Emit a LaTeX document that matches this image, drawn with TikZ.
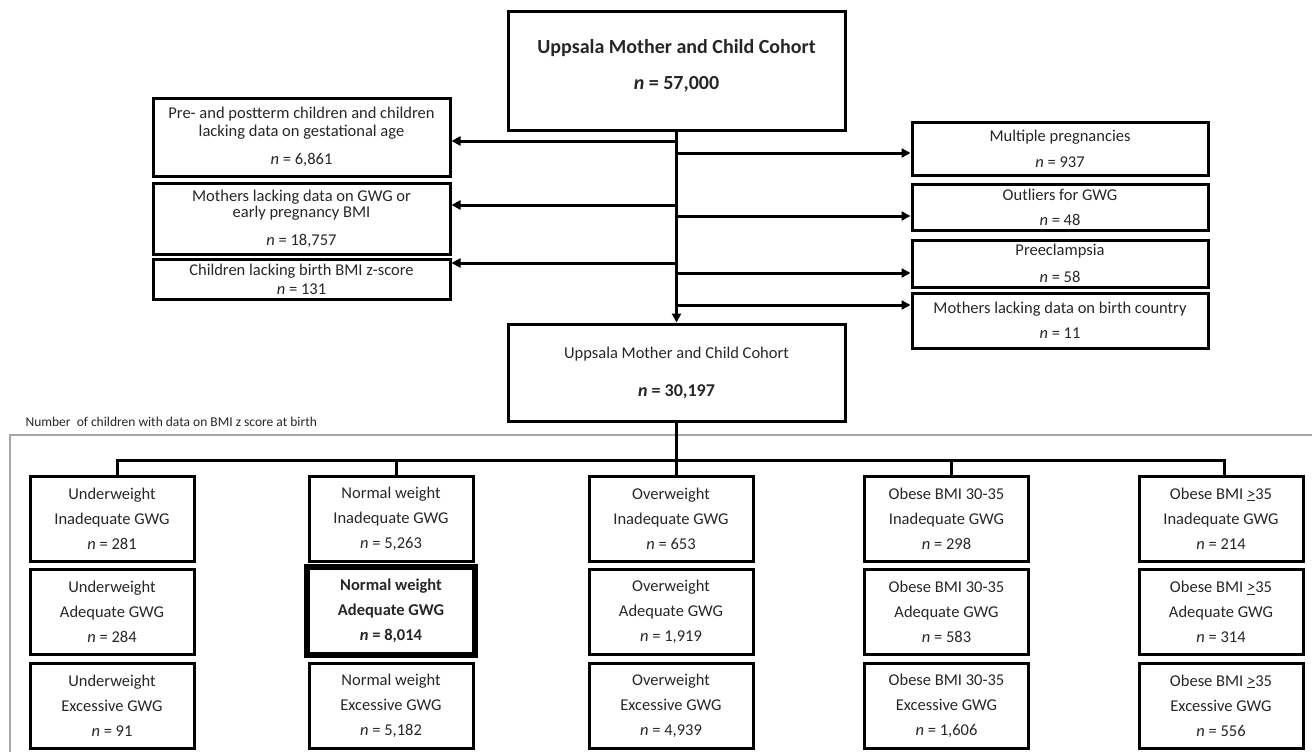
\documentclass[tikz,border=0pt]{standalone}
\usepackage{fontspec}
\setmainfont{Carlito}
\usetikzlibrary{arrows.meta,positioning}

\newcommand{\bodyfont}[1]{\fontsize{16.5}{#1}\selectfont}
\newcommand{\nn}{\textit{n}}

\tikzset{
  box/.style={draw, line width=3pt, inner sep=0pt, align=center, text=black!85},
  exarrow/.style={line width=3pt, -{Triangle[length=9pt,width=9pt]}},
  link/.style={line width=3pt},
  frame/.style={draw=black!35, line width=1.6pt}
}

\begin{document}
\begin{tikzpicture}[x=1pt,y=-1pt]
	\useasboundingbox (0,0) rectangle (1312,752);

	% cohort boxes
	\node[box, minimum width=337pt, minimum height=118pt, font=\fontsize{20}{36}\selectfont\bfseries]
		(top) at (676.5,71) {Uppsala Mother and Child Cohort\\ \nn{} = 57,000\\[-22pt]\mbox{}};
	\node[box, minimum width=337pt, minimum height=97pt, font=\bodyfont{38}]
		(cohort) at (676.5,372.5) {Uppsala Mother and Child Cohort\\ {\fontsize{18}{20}\selectfont\bfseries\nn{} = 30,197}};

	% exclusions, left
	\node[box, minimum width=297pt, minimum height=78pt, font=\bodyfont{18}]
		(preterm) at (301.5,137) {Pre- and postterm children and children\\lacking data on gestational age\\[10pt]\nn{} = 6,861};
	\node[box, minimum width=297pt, minimum height=71pt, font=\bodyfont{16}]
		(gwgmiss) at (301.5,218.5) {Mothers lacking data on GWG or\\early pregnancy BMI\\[12pt]\nn{} = 18,757};
	\node[box, minimum width=297pt, minimum height=40pt, font=\bodyfont{19}]
		(zmiss) at (301.5,279.5) {Children lacking birth BMI z-score\\\nn{} = 131};

	% exclusions, right
	\node[box, minimum width=296pt, minimum height=53pt, font=\bodyfont{26}]
		(multiple) at (1060,148.5) {Multiple pregnancies\\\nn{} = 937};
	\node[box, minimum width=296pt, minimum height=46pt, font=\bodyfont{25}]
		(outlier) at (1060,207) {Outliers for GWG\\\nn{} = 48};
	\node[box, minimum width=296pt, minimum height=47pt, font=\bodyfont{27}]
		(preecl) at (1060,263.5) {Preeclampsia\\\nn{} = 58};
	\node[box, minimum width=296pt, minimum height=55pt, font=\bodyfont{25}]
		(country) at (1060,320.5) {Mothers lacking data on birth country\\\nn{} = 11};

	\draw[exarrow] (top.south) -- (cohort.north);
	\foreach \b/\y in {preterm/141, gwgmiss/205, zmiss/263}
		\draw[exarrow] (top.south |- 0,\y) -- (\b.east |- 0,\y);
	\foreach \b/\y in {multiple/153, outlier/216, preecl/273, country/305}
		\draw[exarrow] (top.south |- 0,\y) -- (\b.west |- 0,\y);

	% subgroups
	\draw[frame] (10,760) -- (10,435) -- (1320,435);
	\node[anchor=west, font=\fontsize{13.5}{14}\selectfont, text=black!85] (framelabel) at (22,422)
		{Number~ of children with data on BMI z score at birth};

	\foreach \id/\x/\y/\head/\gwg/\num in {
		uw1/112/518.5/Underweight/Inadequate/281,
		uw2/112/612/Underweight/Adequate/284,
		uw3/112/705.5/Underweight/Excessive/91,
		nw1/391/518.5/Normal weight/Inadequate/{5,263},
		nw3/391/705.5/Normal weight/Excessive/{5,182},
		ow1/671/518.5/Overweight/Inadequate/653,
		ow2/671/612/Overweight/Adequate/{1,919},
		ow3/671/705.5/Overweight/Excessive/{4,939},
		ob1/946.5/518.5/Obese BMI 30-35/Inadequate/298,
		ob2/946.5/612/Obese BMI 30-35/Adequate/583,
		ob3/946.5/705.5/Obese BMI 30-35/Excessive/{1,606},
		os1/1221/518.5/Obese BMI \underline{>}35/Inadequate/214,
		os2/1221/612/Obese BMI \underline{>}35/Adequate/314,
		os3/1221/705.5/Obese BMI \underline{>}35/Excessive/556}
		\node[box, minimum width=164pt, minimum height=85pt, font=\bodyfont{25}]
			(\id) at (\x,\y) {\head\\\gwg{} GWG\\\nn{} = \num};
	\node[box, line width=5.5pt, minimum width=168pt, minimum height=88pt, font=\bodyfont{25}\bfseries]
		(nw2) at (391,611) {Normal weight\\Adequate GWG\\\nn{} = 8,014};

	\coordinate (bus) at (cohort.south |- 0,460);
	\draw[link] (cohort.south) -- (cohort.south |- ow1.north);
	\draw[link] ([xshift=5pt]uw1.north) |- (bus) -| ([xshift=3pt]os1.north);
	\foreach \c in {nw1, ob1}
		\draw[link] ([xshift=5pt]\c.north) -- ++(0,-16);
\end{tikzpicture}
\end{document}
